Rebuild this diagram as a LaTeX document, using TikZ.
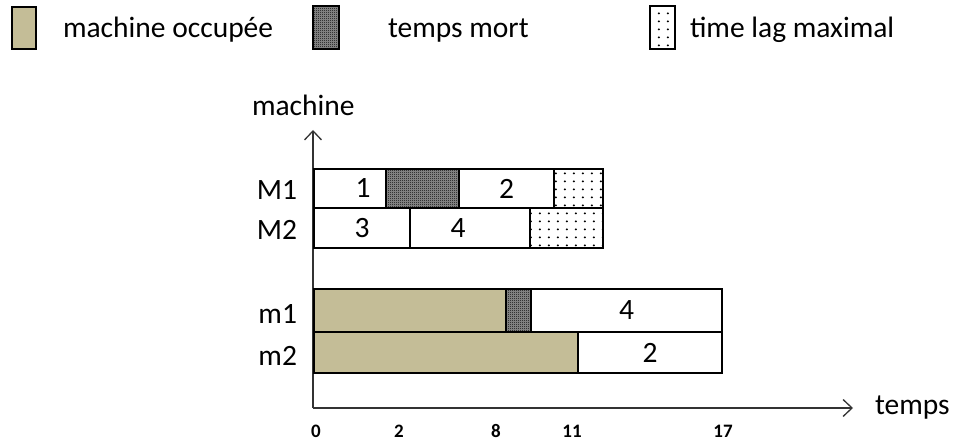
\documentclass[tikz,border=0pt]{standalone}
\usepackage{fontspec}
\setmainfont{Carlito}
\usetikzlibrary{arrows.meta,patterns}

% sparse dot pattern for the maximal time lag
\pgfdeclarepatternformonly{sparsedots}{\pgfpointorigin}{\pgfpoint{8.5pt}{8pt}}{\pgfpoint{8.5pt}{8pt}}%
{\pgfpathcircle{\pgfpoint{4pt}{4pt}}{1.2pt}\pgfusepath{fill}}
% fine checker pattern for dead time
\pgfdeclarepatternformonly{finechecker}{\pgfpointorigin}{\pgfpoint{2pt}{2pt}}{\pgfpoint{2pt}{2pt}}%
{\pgfpathrectangle{\pgfpointorigin}{\pgfpoint{1pt}{1pt}}\pgfpathrectangle{\pgfpoint{1pt}{1pt}}{\pgfpoint{1pt}{1pt}}\pgfusepath{fill}}

\definecolor{busytan}{HTML}{C4BD97}

\begin{document}
\begin{tikzpicture}[x=1pt,y=-1pt,
  txt/.style={inner sep=0pt, outer sep=0pt, font=\fontsize{29.5}{29.5}\selectfont},
  ticklab/.style={inner sep=0pt, outer sep=0pt, anchor=base, font=\bfseries\fontsize{19}{19}\selectfont},
  cell/.style={draw=black, line width=1.3pt, anchor=north west, inner sep=0pt, outer sep=0pt,
    font=\fontsize{29.5}{29.5}\selectfont},
  busy/.style={cell, fill=busytan},
  dead/.style={cell, preaction={fill=gray!85}, pattern=finechecker, pattern color=black},
  lag/.style={cell, preaction={fill=white}, pattern=sparsedots, pattern color=black},
  axis/.style={draw=black!80, line width=1.3pt, -{Straight Barb[length=9pt,width=17pt,line width=1.3pt]}}
]
\useasboundingbox (0,0) rectangle (959,441);

% legend
\node[busy, minimum width=24pt, minimum height=42pt] (legbusy) at (12,7) {};
\node[txt, anchor=base west] (legbusytxt) at (63,38) {machine occupée};
\node[dead, minimum width=26pt, minimum height=43pt] (legdead) at (313,6) {};
\node[txt, anchor=base west] (legdeadtxt) at (388,38) {temps mort};
\node[lag, minimum width=25pt, minimum height=43pt] (leglag) at (650,6) {};
\node[txt, anchor=base west] (leglagtxt) at (690,38) {time lag maximal};

% axes
\coordinate (origin) at (313,408);
\coordinate (ytip) at (313,130);
\coordinate (xtip) at (853,408);
\draw[axis] (origin) -- (ytip);
\draw[axis] (origin) -- (xtip);
\node[txt, anchor=base west] (ylab) at (252,116) {machine};
\node[txt, anchor=base west] (xlab) at (875,414) {temps};

% row labels
\node[txt, anchor=base east] (rM1) at (297,200) {M1};
\node[txt, anchor=base east] (rM2) at (297,240) {M2};
\node[txt, anchor=base east] (rm1) at (297,323) {m1};
\node[txt, anchor=base east] (rm2) at (297,365) {m2};

% schedule on M1
\node[cell, minimum width=72pt, minimum height=39pt] (a1) at (314,169) {\hspace*{26pt}1};
\node[dead, minimum width=73pt, minimum height=39pt] (a2) at (386,169) {};
\node[cell, minimum width=95pt, minimum height=39pt] (a3) at (459,169) {2};
\node[lag, minimum width=49pt, minimum height=39pt] (a4) at (554,169) {};

% schedule on M2
\node[cell, minimum width=96pt, minimum height=40pt] (b1) at (314,208) {3};
\node[cell, minimum width=120pt, minimum height=40pt] (b2) at (410,208) {4\hspace*{24pt}};
\node[lag, minimum width=73pt, minimum height=40pt] (b3) at (530,208) {};

% schedule on m1
\node[busy, minimum width=192pt, minimum height=43pt] (c1) at (314,289) {};
\node[dead, minimum width=25pt, minimum height=43pt] (c2) at (506,289) {};
\node[cell, minimum width=191pt, minimum height=43pt] (c3) at (531,289) {4};

% schedule on m2
\node[busy, minimum width=264pt, minimum height=41pt] (d1) at (314,332) {};
\node[cell, minimum width=144pt, minimum height=41pt] (d2) at (578,332) {2};

% time ticks
\node[ticklab] (t0) at (316,437) {0};
\node[ticklab] (t2) at (399,437) {2};
\node[ticklab] (t8) at (496,437) {8};
\node[ticklab] (t11) at (572,437) {11};
\node[ticklab] (t17) at (723,437) {17};
\end{tikzpicture}
\end{document}
